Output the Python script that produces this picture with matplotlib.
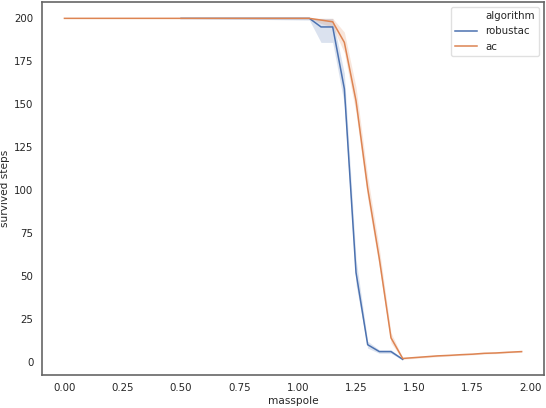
import matplotlib
matplotlib.use("Agg")
import matplotlib.pyplot as plt
from matplotlib.lines import Line2D
import numpy as np

# masspole vs survived steps (mean with CI band)
robust_x = [0.5, 1.05, 1.1, 1.15, 1.2, 1.25, 1.3, 1.35, 1.4, 1.45]
robust_y = [200, 200, 195, 195, 159, 52, 10, 6, 6, 1.5]
robust_lo = [200, 199, 186, 186, 150, 45, 8, 5, 5, 1]
robust_hi = [200, 200, 200, 200, 168, 60, 12, 7, 7, 2]

ac_x = [0.0, 1.05, 1.1, 1.15, 1.2, 1.25, 1.3, 1.35, 1.4, 1.45,
        1.5, 1.55, 1.6, 1.65, 1.7, 1.75, 1.8, 1.85, 1.9, 1.96]
ac_y = [200, 200, 199, 198, 186, 152, 101, 60, 14, 2,
        2.5, 3, 3.5, 3.8, 4.2, 4.5, 5, 5.2, 5.6, 6]
ac_lo = [200, 200, 197, 195, 180, 145, 95, 55, 11, 1.5,
         2, 2.5, 3, 3.4, 3.8, 4.1, 4.6, 4.8, 5.2, 5.6]
ac_hi = [200, 200, 200, 200, 192, 160, 108, 66, 17, 2.5,
         3, 3.5, 4, 4.2, 4.6, 4.9, 5.4, 5.6, 6, 6.4]

labels = ["robustac", "ac"]
colors = ["#4c72b0", "#dd8452"]

plt.rcParams["font.family"] = "DejaVu Sans"
plt.rcParams["font.size"] = 7.4
text_col = "0.15"

fig = plt.figure(figsize=(5.46, 4.08), dpi=100)
ax = fig.add_axes([0.0764, 0.081, 0.9206, 0.914])

series = [(robust_x, robust_y, robust_lo, robust_hi), (ac_x, ac_y, ac_lo, ac_hi)]
for (x, y, lo, hi), lab, c in zip(series, labels, colors):
    ax.fill_between(x, lo, hi, color=c, alpha=0.2, linewidth=0)
    ax.plot(x, y, color=c, lw=1.1, label=lab)

ax.set_xlim(-0.0975, 2.0575)
ax.set_ylim(-7.6, 209.5)
ax.set_xticks([0, 0.25, 0.5, 0.75, 1.0, 1.25, 1.5, 1.75, 2.0])
ax.set_yticks(range(0, 201, 25))
ax.set_xticklabels(["%.2f" % t for t in ax.get_xticks()])
ax.tick_params(length=0, pad=6, colors=text_col, labelsize=7.4)
for s in ax.spines.values():
    s.set_color("0.4")
    s.set_linewidth(1.2)

ax.set_xlabel("masspole", color=text_col, fontsize=7.6, labelpad=2)
ax.set_ylabel("survived steps", color=text_col, fontsize=7.6, labelpad=3)

handles = [Line2D([], [], color="none")] + [Line2D([], [], color=c, lw=1.1) for c in colors]
leg = ax.legend(handles, ["algorithm"] + labels, loc="upper right", fontsize=7.4,
                frameon=True, borderaxespad=0.5, handlelength=2.2)
leg.get_frame().set_edgecolor("0.85")
for t in leg.get_texts():
    t.set_color(text_col)

fig.savefig("out.png", dpi=100)
